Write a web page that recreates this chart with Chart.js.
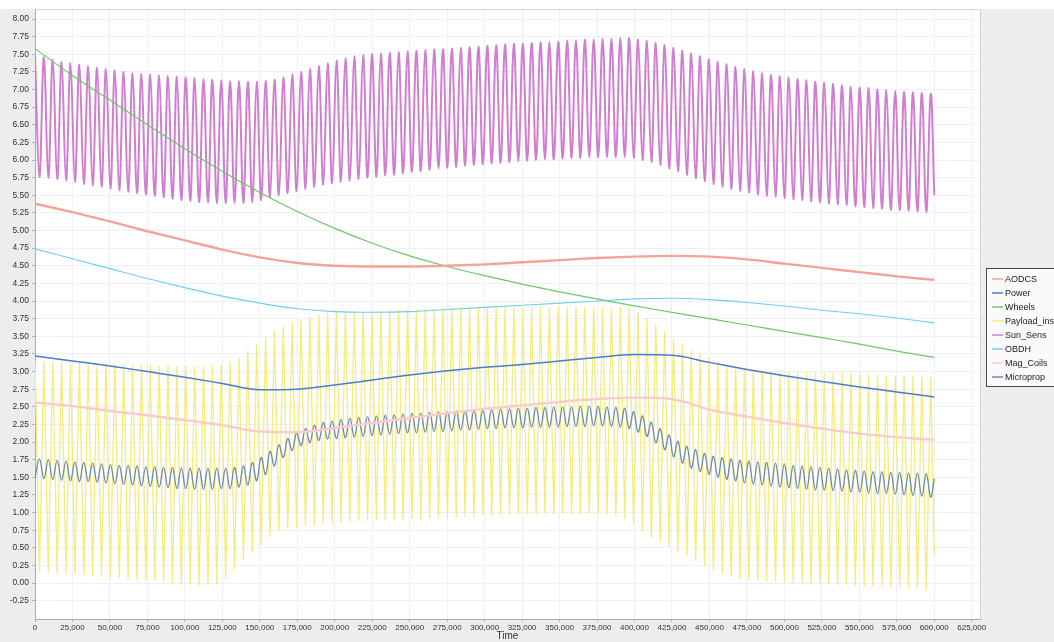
<!DOCTYPE html>
<html>
<head>
<meta charset="utf-8">
<script src="https://cdn.jsdelivr.net/npm/chart.js@4.4.1/dist/chart.umd.min.js"></script>
<style>
  html, body { margin: 0; padding: 0; background: #ededed; overflow: hidden; }
  #wrap { width: 1054px; height: 642px; }
</style>
</head>
<body>
<div id="wrap"><canvas id="c" width="1054" height="642"></canvas></div>
<script>
// ---------- tick labels ----------
const X_TICKS = [0,25000,50000,75000,100000,125000,150000,175000,200000,225000,250000,275000,300000,325000,350000,375000,400000,425000,450000,475000,500000,525000,550000,575000,600000,625000];
const Y_TICKS = [-0.25,0,0.25,0.5,0.75,1,1.25,1.5,1.75,2,2.25,2.5,2.75,3,3.25,3.5,3.75,4,4.25,4.5,4.75,5,5.25,5.5,5.75,6,6.25,6.5,6.75,7,7.25,7.5,7.75,8];

// ---------- slowly varying series (sampled every 25,000 s) ----------
const SMOOTH_TIMES = [0,25000,50000,75000,100000,125000,150000,175000,200000,225000,250000,275000,300000,325000,350000,375000,400000,425000,450000,475000,500000,525000,550000,575000,600000];
const AODCS     = [5.38,5.26,5.13,4.99,4.86,4.73,4.62,4.54,4.50,4.49,4.49,4.50,4.52,4.55,4.58,4.61,4.63,4.64,4.63,4.59,4.53,4.47,4.41,4.35,4.30];
const POWER     = [3.22,3.15,3.08,3.00,2.92,2.83,2.74,2.75,2.81,2.88,2.95,3.01,3.06,3.10,3.15,3.20,3.24,3.23,3.13,3.03,2.94,2.86,2.78,2.71,2.64];
const WHEELS    = [7.58,7.20,6.85,6.50,6.16,5.84,5.54,5.27,5.03,4.82,4.64,4.49,4.36,4.24,4.13,4.03,3.93,3.84,3.75,3.66,3.57,3.48,3.39,3.29,3.20];
const OBDH      = [4.74,4.60,4.46,4.32,4.19,4.07,3.97,3.89,3.85,3.84,3.85,3.88,3.91,3.94,3.97,4.00,4.03,4.04,4.02,3.98,3.93,3.87,3.82,3.76,3.69];
const MAG_COILS = [2.56,2.51,2.44,2.38,2.31,2.24,2.15,2.14,2.20,2.27,2.34,2.41,2.47,2.52,2.57,2.61,2.63,2.61,2.46,2.36,2.27,2.19,2.12,2.07,2.03];

// ---------- orbital oscillating series ----------
// samples at every full orbit (k * ORBIT) and at every half orbit ((k + 0.5) * ORBIT)
const ORBIT = 5917;      // seconds per orbit
const END_TIME = 600000;

const SUN_AT_FULL = [
 7.50,7.46,7.42,7.39,7.37,7.35,7.33,7.31,7.29,7.27,
 7.25,7.23,7.22,7.21,7.20,7.19,7.18,7.17,7.16,7.15,
 7.14,7.13,7.12,7.12,7.11,7.11,7.12,7.14,7.17,7.21,
 7.25,7.29,7.33,7.37,7.41,7.44,7.47,7.49,7.50,7.51,
 7.52,7.53,7.54,7.55,7.56,7.57,7.57,7.58,7.59,7.60,
 7.61,7.62,7.63,7.64,7.65,7.65,7.66,7.67,7.67,7.68,
 7.69,7.70,7.71,7.71,7.72,7.72,7.73,7.73,7.71,7.69,
 7.66,7.63,7.59,7.55,7.51,7.47,7.43,7.39,7.36,7.32,
 7.29,7.26,7.23,7.21,7.19,7.17,7.15,7.13,7.11,7.10,
 7.08,7.06,7.04,7.03,7.02,7.00,6.99,6.98,6.97,6.96,
 6.95,6.94];
const SUN_AT_HALF = [
 5.76,5.75,5.73,5.71,5.69,5.66,5.64,5.62,5.60,5.57,
 5.55,5.53,5.51,5.49,5.47,5.45,5.43,5.42,5.40,5.40,
 5.39,5.39,5.39,5.39,5.40,5.43,5.47,5.50,5.53,5.56,
 5.59,5.62,5.65,5.67,5.69,5.71,5.73,5.75,5.76,5.78,
 5.79,5.81,5.83,5.84,5.86,5.88,5.89,5.90,5.92,5.93,
 5.94,5.95,5.96,5.97,5.98,5.99,6.00,6.01,6.01,6.02,
 6.03,6.03,6.04,6.04,6.04,6.04,6.04,6.03,6.00,5.97,
 5.93,5.88,5.84,5.79,5.74,5.70,5.66,5.62,5.59,5.56,
 5.54,5.51,5.49,5.48,5.46,5.44,5.43,5.41,5.40,5.38,
 5.37,5.36,5.34,5.33,5.32,5.31,5.29,5.29,5.28,5.27,
 5.26];
const SUN_END = 5.50;

const PAYLOAD_AT_FULL = [
 3.15,3.15,3.14,3.14,3.13,3.13,3.12,3.12,3.11,3.11,
 3.10,3.10,3.10,3.09,3.09,3.09,3.08,3.08,3.08,3.08,
 3.08,3.09,3.13,3.19,3.29,3.39,3.49,3.58,3.65,3.71,
 3.75,3.78,3.81,3.83,3.84,3.85,3.85,3.86,3.86,3.87,
 3.87,3.88,3.88,3.88,3.89,3.89,3.89,3.90,3.90,3.90,
 3.90,3.91,3.91,3.91,3.91,3.91,3.92,3.92,3.92,3.92,
 3.92,3.92,3.92,3.92,3.92,3.92,3.92,3.91,3.85,3.76,
 3.66,3.57,3.47,3.38,3.31,3.25,3.20,3.15,3.10,3.07,
 3.05,3.03,3.02,3.01,3.00,3.00,2.99,2.99,2.98,2.98,
 2.98,2.98,2.97,2.97,2.96,2.96,2.95,2.95,2.94,2.94,
 2.93,2.92];
const PAYLOAD_AT_HALF = [
 0.16,0.15,0.14,0.13,0.12,0.11,0.10,0.09,0.08,0.07,
 0.06,0.05,0.03,0.02,0.01,0.00,-0.01,-0.02,-0.03,-0.03,
 -0.02,0.05,0.19,0.33,0.43,0.53,0.65,0.74,0.77,0.79,
 0.81,0.82,0.84,0.85,0.86,0.87,0.88,0.88,0.89,0.89,
 0.90,0.90,0.91,0.91,0.92,0.92,0.93,0.93,0.94,0.94,
 0.95,0.95,0.96,0.96,0.97,0.97,0.97,0.98,0.98,0.98,
 0.98,0.98,0.98,0.98,0.97,0.95,0.91,0.83,0.73,0.64,
 0.58,0.51,0.44,0.38,0.31,0.24,0.17,0.13,0.09,0.06,
 0.04,0.03,0.02,0.01,0.01,0.00,0.00,-0.01,-0.01,-0.02,
 -0.03,-0.03,-0.04,-0.05,-0.05,-0.06,-0.07,-0.07,-0.08,-0.09,
 -0.10];
const PAYLOAD_END = 0.40;

const MICRO_AT_FULL = [
 1.49,1.48,1.47,1.46,1.45,1.44,1.44,1.43,1.42,1.41,
 1.40,1.39,1.38,1.37,1.36,1.35,1.34,1.34,1.33,1.33,
 1.33,1.34,1.34,1.36,1.39,1.45,1.54,1.66,1.78,1.88,
 1.95,1.99,2.02,2.04,2.05,2.06,2.07,2.08,2.09,2.10,
 2.11,2.12,2.13,2.13,2.14,2.15,2.15,2.16,2.17,2.17,
 2.18,2.19,2.19,2.20,2.20,2.20,2.21,2.21,2.21,2.21,
 2.22,2.22,2.22,2.23,2.23,2.22,2.21,2.19,2.14,2.08,
 1.99,1.89,1.79,1.70,1.63,1.58,1.54,1.50,1.47,1.45,
 1.42,1.40,1.39,1.37,1.36,1.35,1.34,1.33,1.32,1.32,
 1.31,1.30,1.29,1.29,1.28,1.27,1.27,1.26,1.25,1.24,
 1.23,1.22];
const MICRO_AT_HALF = [
 1.76,1.75,1.74,1.73,1.72,1.71,1.70,1.69,1.68,1.67,
 1.67,1.66,1.65,1.65,1.64,1.64,1.63,1.63,1.63,1.63,
 1.63,1.63,1.64,1.66,1.71,1.78,1.87,1.96,2.05,2.13,
 2.19,2.24,2.28,2.30,2.32,2.34,2.35,2.36,2.37,2.38,
 2.39,2.40,2.41,2.41,2.42,2.43,2.43,2.44,2.44,2.45,
 2.45,2.46,2.47,2.47,2.48,2.48,2.49,2.49,2.50,2.50,
 2.50,2.51,2.51,2.51,2.50,2.49,2.48,2.43,2.37,2.28,
 2.19,2.10,2.01,1.94,1.89,1.84,1.80,1.78,1.76,1.74,
 1.73,1.72,1.71,1.70,1.69,1.67,1.66,1.65,1.64,1.63,
 1.62,1.61,1.60,1.59,1.58,1.58,1.57,1.57,1.56,1.56,
 1.55];
const MICRO_END = 1.48;

// ---------- build point lists ----------
function smoothPoints(values) {
  return SMOOTH_TIMES.map((t, i) => ({ x: t, y: values[i] }));
}
function orbitPoints(atFull, atHalf, endValue) {
  const pts = [];
  for (let k = 0; k < atFull.length; k++) {
    pts.push({ x: k * ORBIT, y: atFull[k] });
    if (k < atHalf.length) pts.push({ x: (k + 0.5) * ORBIT, y: atHalf[k] });
  }
  pts.push({ x: END_TIME, y: endValue });
  return pts;
}

const FONT = '"Liberation Sans", Arial, sans-serif';

const datasets = [
  { label: 'AODCS', data: smoothPoints(AODCS), borderColor: '#f5a398', borderWidth: 2.4, cubicInterpolationMode: 'monotone', order: 1 },
  { label: 'Power', data: smoothPoints(POWER), borderColor: '#4b7bd2', borderWidth: 1.5, cubicInterpolationMode: 'monotone', order: 2 },
  { label: 'Wheels', data: smoothPoints(WHEELS), borderColor: '#6cc864', borderWidth: 1.2, cubicInterpolationMode: 'monotone', order: 3 },
  { label: 'Payload_inst', data: orbitPoints(PAYLOAD_AT_FULL, PAYLOAD_AT_HALF, PAYLOAD_END), borderColor: '#f5ec7c', borderWidth: 1.3, tension: 0, order: 10 },
  { label: 'Sun_Sens', data: orbitPoints(SUN_AT_FULL, SUN_AT_HALF, SUN_END), borderColor: '#d07fd0', borderWidth: 2, tension: 0.4, order: 5 },
  { label: 'OBDH', data: smoothPoints(OBDH), borderColor: '#70cdf0', borderWidth: 1.1, cubicInterpolationMode: 'monotone', order: 4 },
  { label: 'Mag_Coils', data: smoothPoints(MAG_COILS), borderColor: '#f8cbcd', borderWidth: 2.4, cubicInterpolationMode: 'monotone', order: 6 },
  { label: 'Microprop', data: orbitPoints(MICRO_AT_FULL, MICRO_AT_HALF, MICRO_END), borderColor: '#6f8bab', borderWidth: 1.3, tension: 0.4, order: 7 }
];
datasets.forEach(d => { d.pointRadius = 0; d.pointHoverRadius = 0; d.fill = false; });

const backgroundPlugin = {
  id: 'bg',
  beforeDraw(chart) {
    const { ctx, chartArea: a, width, height } = chart;
    ctx.save();
    ctx.fillStyle = '#ededed';
    ctx.fillRect(0, 0, width, height);
    ctx.fillStyle = '#ffffff';
    ctx.fillRect(0, 0, width, a.top);
    ctx.fillRect(a.left, a.top, a.right - a.left, a.bottom - a.top);
    ctx.restore();
  },
  afterDraw(chart) {
    const { ctx, chartArea: a } = chart;
    ctx.save();
    // top & right frame
    ctx.strokeStyle = '#d4d4d4';
    ctx.lineWidth = 1;
    ctx.beginPath();
    ctx.moveTo(a.left, a.top + 0.5);
    ctx.lineTo(a.right + 0.5, a.top + 0.5);
    ctx.lineTo(a.right + 0.5, a.bottom);
    ctx.stroke();
    // legend
    const lx = a.right + 6, ly = 268, lw = 90, lh = 118;
    ctx.fillStyle = '#fafafa';
    ctx.fillRect(lx, ly, lw, lh);
    ctx.strokeStyle = '#4a4a4a';
    ctx.strokeRect(lx + 0.5, ly + 0.5, lw, lh);
    ctx.font = '9px ' + FONT;
    ctx.textBaseline = 'middle';
    ctx.textAlign = 'left';
    chart.data.datasets.forEach((d, i) => {
      const y = ly + 11 + i * 14;
      ctx.strokeStyle = d.borderColor;
      ctx.lineWidth = 1.5;
      ctx.beginPath();
      ctx.moveTo(lx + 6, y);
      ctx.lineTo(lx + 17, y);
      ctx.stroke();
      ctx.fillStyle = '#222';
      ctx.fillText(d.label, lx + 19, y + 0.5);
    });
    ctx.restore();
  }
};

new Chart(document.getElementById('c'), {
  type: 'line',
  data: { datasets },
  plugins: [backgroundPlugin],
  options: {
    responsive: false,
    animation: false,
    devicePixelRatio: 1,
    layout: { padding: { top: 9, right: 74, left: 0, bottom: 0 } },
    plugins: { legend: { display: false }, tooltip: { enabled: false } },
    scales: {
      x: {
        type: 'linear', min: 0, max: 630500,
        afterBuildTicks: s => { s.ticks = X_TICKS.map(v => ({ value: v })); },
        afterFit: s => { s.height = 23; },
        ticks: {
          autoSkip: false, maxRotation: 0, padding: 1, color: '#333',
          font: { family: FONT, size: 8 },
          callback: v => Number(v).toLocaleString('en-US')
        },
        grid: { color: '#edf1f6', tickLength: 3, tickColor: '#a8b8c8' },
        border: { color: '#9db0c4', width: 1 },
        title: { display: true, text: 'Time', color: '#333', font: { family: FONT, size: 10 }, padding: { top: 0, bottom: 0 } }
      },
      y: {
        type: 'linear', min: -0.51, max: 8.142,
        afterBuildTicks: s => { s.ticks = Y_TICKS.map(v => ({ value: v })); },
        afterFit: s => { s.width = 35; },
        ticks: {
          padding: 3, color: '#333',
          font: { family: FONT, size: 8.5 },
          callback: v => Number(v).toFixed(2)
        },
        grid: { color: '#edf1f6', tickLength: 3, tickColor: '#a8b8c8' },
        border: { color: '#9db0c4', width: 1 }
      }
    }
  }
});
</script>
</body>
</html>
